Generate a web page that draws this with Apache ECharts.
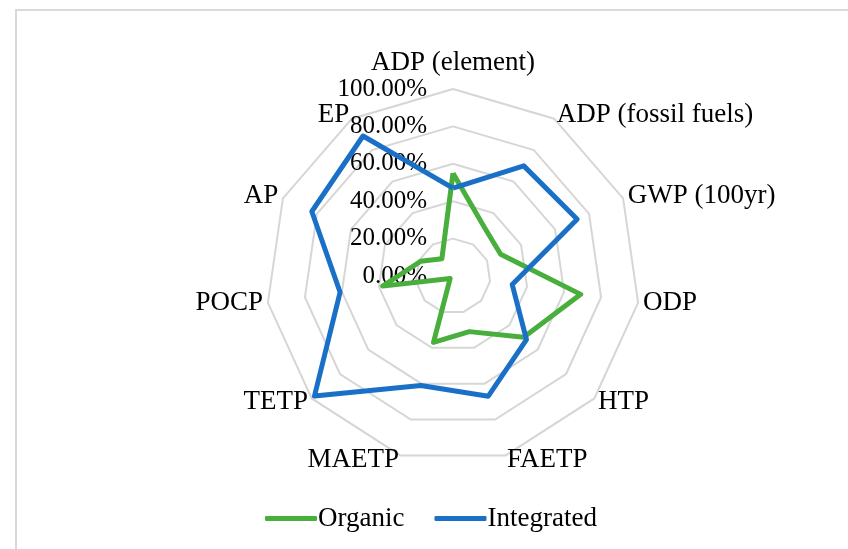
<!DOCTYPE html>
<html>
<head>
<meta charset="utf-8">
<script src="https://cdn.jsdelivr.net/npm/echarts@6/dist/echarts.min.js"></script>
<style>
  html, body { margin: 0; padding: 0; background: #fff; }
  #frame { position: absolute; left: 15px; top: 9px; width: 900px; height: 600px;
           border-top: 2px solid #d9d9d9; border-left: 2px solid #d9d9d9; }
  #chart { position: absolute; left: 0; top: 0; width: 848px; height: 549px; }
</style>
</head>
<body>
<div id="frame"></div>
<div id="chart"></div>
<script>
const categories = ['ADP (element)', 'ADP (fossil fuels)', 'GWP (100yr)', 'ODP', 'HTP', 'FAETP', 'MAETP', 'TETP', 'POCP', 'AP', 'EP'];
const organic = [55, 31, 28, 69, 50, 31, 37, 2, 38, 19, 11];
const integrated = [47, 70, 73, 32, 52, 67, 61, 98, 61, 83, 89];
const seriesNames = ['Organic', 'Integrated'];
const colors = ['#48AE3C', '#1A70C6'];

// ECharts lays indicators out counter-clockwise; reorder so they run clockwise.
const order = [0].concat(categories.map((_, i) => i).slice(1).reverse());
const pick = arr => order.map(i => arr[i]);

const chart = echarts.init(document.getElementById('chart'));
const font = '"Liberation Serif", "DejaVu Serif", serif';

chart.setOption({
  animation: false,
  textStyle: { fontFamily: font },
  legend: {
    data: seriesNames,
    left: 260,
    top: 500,
    icon: 'roundRect',
    itemWidth: 52,
    itemHeight: 5,
    itemGap: 30,
    textStyle: { fontFamily: font, fontSize: 27, color: '#000', padding: [0, 0, 0, -4] }
  },
  radar: {
    center: [453, 276],
    radius: 187,
    startAngle: 90,
    shape: 'polygon',
    splitNumber: 5,
    axisName: { color: '#000', fontFamily: font, fontSize: 27 },
    nameGap: 5,
    axisLine: { show: false },
    axisTick: { show: false },
    splitArea: { show: false },
    splitLine: { lineStyle: { color: '#d6d6d6', width: 2 } },
    axisLabel: { show: false },
    indicator: pick(categories).map((c, i) => {
      const o = { name: c, min: 0, max: 100 };
      if (i === 0) {
        o.axisLabel = {
          show: true, color: '#000', fontFamily: font, fontSize: 25, margin: 26,
          formatter: v => v.toFixed(2) + '%'
        };
      }
      return o;
    })
  },
  series: [{
    type: 'radar',
    symbol: 'none',
    data: [
      { name: seriesNames[0], value: pick(organic), lineStyle: { color: colors[0], width: 5 }, itemStyle: { color: colors[0] } },
      { name: seriesNames[1], value: pick(integrated), lineStyle: { color: colors[1], width: 5 }, itemStyle: { color: colors[1] } }
    ]
  }]
});
</script>
</body>
</html>
